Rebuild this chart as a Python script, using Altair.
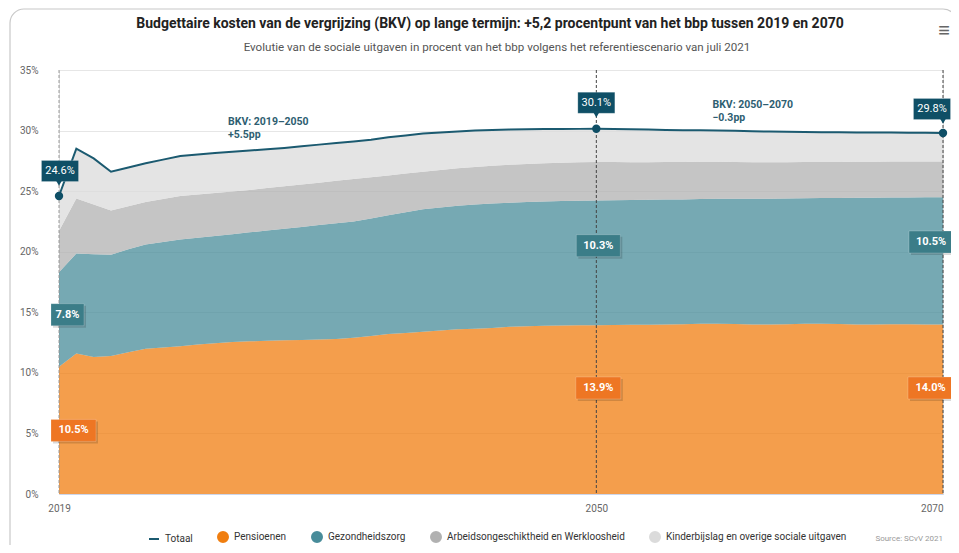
import altair as alt
import pandas as pd

# ---------------- data ----------------
years = list(range(2019, 2071))

totaal = [24.6, 28.5, 27.7, 26.6, 26.95, 27.3, 27.6, 27.9, 28.03, 28.15,
          28.25, 28.35, 28.45, 28.57, 28.7, 28.84, 28.97, 29.1, 29.25, 29.45,
          29.6, 29.75, 29.85, 29.93, 30.0, 30.05, 30.08, 30.1, 30.12, 30.13,
          30.14, 30.15, 30.12, 30.1, 30.08, 30.05, 30.03, 30.02, 30.0, 29.98,
          29.95, 29.92, 29.9, 29.88, 29.87, 29.86, 29.85, 29.85, 29.84, 29.83,
          29.82, 29.8]

pensioenen = [10.5, 11.6, 11.3, 11.4, 11.7, 12.0, 12.1, 12.2, 12.35, 12.45,
              12.55, 12.6, 12.65, 12.7, 12.72, 12.75, 12.8, 12.9, 13.05, 13.2,
              13.3, 13.4, 13.5, 13.6, 13.65, 13.7, 13.8, 13.85, 13.88, 13.9,
              13.92, 13.93, 13.95, 13.97, 13.98, 14.0, 14.02, 14.05, 14.05, 14.03,
              14.0, 14.0, 14.02, 14.05, 14.05, 14.03, 14.0, 14.0, 14.02, 14.02,
              14.0, 14.0]

gezondheidszorg = [7.8, 8.25, 8.5, 8.35, 8.5, 8.6, 8.7, 8.8, 8.8, 8.85,
                   8.9, 9.0, 9.1, 9.2, 9.33, 9.45, 9.55, 9.6, 9.7, 9.8,
                   9.95, 10.1, 10.15, 10.2, 10.25, 10.28, 10.25, 10.25, 10.27, 10.28,
                   10.28, 10.3, 10.3, 10.3, 10.3, 10.3, 10.3, 10.3, 10.32, 10.34,
                   10.37, 10.38, 10.38, 10.37, 10.38, 10.41, 10.45, 10.46, 10.45, 10.46,
                   10.49, 10.5]

arbeid = [3.4, 4.55, 4.1, 3.65, 3.55, 3.5, 3.55, 3.6, 3.57, 3.55,
          3.52, 3.5, 3.5, 3.5, 3.5, 3.5, 3.5, 3.5, 3.4, 3.3,
          3.2, 3.1, 3.1, 3.08, 3.1, 3.12, 3.13, 3.15, 3.15, 3.17,
          3.18, 3.17, 3.15, 3.11, 3.1, 3.1, 3.08, 3.07, 3.05, 3.03,
          3.01, 3.0, 2.98, 2.98, 2.97, 2.96, 2.97, 2.97, 2.97, 2.97,
          2.96, 2.95]

kinderbijslag = [2.9, 4.1, 3.8, 3.2, 3.2, 3.2, 3.25, 3.3, 3.31, 3.3,
                 3.28, 3.25, 3.2, 3.17, 3.15, 3.14, 3.12, 3.1, 3.1, 3.15,
                 3.15, 3.15, 3.1, 3.05, 3.0, 2.95, 2.9, 2.85, 2.82, 2.78,
                 2.76, 2.75, 2.72, 2.72, 2.7, 2.65, 2.63, 2.6, 2.58, 2.58,
                 2.57, 2.54, 2.52, 2.48, 2.47, 2.46, 2.43, 2.42, 2.4, 2.38,
                 2.37, 2.35]

series_names = ["Totaal", "Pensioenen", "Gezondheidszorg",
                "Arbeidsongeschiktheid en Werkloosheid",
                "Kinderbijslag en overige sociale uitgaven"]
series_colors = ["#1B5A70", "#F07E10", "#488C9A", "#B1B1B1", "#DBDBDB"]

label_years = [2019, 2050, 2070]
rule_colors = ["#9a9a9a", "#444444", "#444444"]
totaal_labels = ["24.6%", "30.1%", "29.8%"]
pensioen_labels = ["10.5%", "13.9%", "14.0%"]
pensioen_label_pos = [5.25, 8.75, 8.75]
gezond_labels = ["7.8%", "10.3%", "10.5%"]
gezond_label_pos = [14.8, 20.5, 20.8]

notes = ["BKV: 2019–2050\n+5.5pp", "BKV: 2050–2070\n−0.3pp"]
note_x = [2028.75, 2056.7]
note_y = [30.45, 31.85]

title = "Budgettaire kosten van de vergrijzing (BKV) op lange termijn: +5,2 procentpunt van het bbp tussen 2019 en 2070"
subtitle = "Evolutie van de sociale uitgaven in procent van het bbp volgens het referentiescenario van juli 2021"
source = "Source: SCvV 2021"

# ---------------- tables ----------------
area_rows = []
for i, y in enumerate(years):
    for k, (name, vals) in enumerate(zip(series_names[1:],
                                         [pensioenen, gezondheidszorg, arbeid, kinderbijslag])):
        area_rows.append({"year": y, "series": name, "value": vals[i], "order": k})
area_df = pd.DataFrame(area_rows)
line_df = pd.DataFrame({"year": years, "value": totaal, "series": "Totaal"})

W, H = 884, 424
FONT = "Roboto"

xscale = alt.Scale(domain=[2019, 2070], nice=False, zero=False)
yscale = alt.Scale(domain=[0, 35], nice=False)
cscale = alt.Scale(domain=series_names, range=series_colors)

legend = alt.Legend(
    title=None, orient="none", legendX=89, legendY=461, direction="horizontal",
    symbolType={"expr": "datum.value === 'Totaal' ? 'stroke' : 'circle'"},
    symbolStrokeColor={"expr": "datum.value === 'Totaal' ? '#1B5A70' : 'transparent'"},
    symbolStrokeWidth=2, symbolSize=100, symbolOpacity=1,
    labelFont=FONT, labelFontSize=10, labelColor="#333333",
    columnPadding=21, labelOffset=5, padding=0, labelLimit=400,
)

x_enc = alt.X("year:Q", scale=xscale,
              axis=alt.Axis(values=[2019, 2050, 2070], format="d", title=None, grid=False,
                            ticks=False, domainColor="#ccd6eb", labelPadding=9, labelFlush=False,
                            labelAlign={"expr": "datum.value == 2070 ? 'right' : 'center'"},
                            labelColor="#666666", labelFont=FONT, labelFontSize=10))
y_enc = alt.Y("value:Q", scale=yscale, stack="zero",
              axis=alt.Axis(values=[0, 5, 10, 15, 20, 25, 30, 35], title=None,
                            labelExpr="datum.value + '%'", domain=False, ticks=False,
                            gridColor="#e6e6e6", labelPadding=21,
                            labelColor="#666666", labelFont=FONT, labelFontSize=10))

areas = alt.Chart(area_df).mark_area(opacity=0.75).encode(
    x=x_enc, y=y_enc,
    color=alt.Color("series:N", scale=cscale, legend=legend),
    order=alt.Order("order:Q"),
)

line = alt.Chart(line_df).mark_line(strokeWidth=2).encode(
    x=alt.X("year:Q", scale=xscale),
    y=alt.Y("value:Q", scale=yscale),
    color=alt.Color("series:N", scale=cscale, legend=legend),
)

rule_df = pd.DataFrame({"year": label_years, "rc": rule_colors})
rules = alt.Chart(rule_df).mark_rule(strokeDash=[3, 2], strokeWidth=1).encode(
    x=alt.X("year:Q", scale=xscale), color=alt.Color("rc:N", scale=None, legend=None))

tot_pts = pd.DataFrame({"year": label_years,
                        "value": [totaal[years.index(y)] for y in label_years],
                        "text": totaal_labels})
points = alt.Chart(tot_pts).mark_point(filled=True, size=70, opacity=1, color="#0F4F66").encode(
    x=alt.X("year:Q", scale=xscale), y=alt.Y("value:Q", scale=yscale))

layers = [areas, rules, line, points]


def box(year, yval, text, fill, w, h, xoff, yoff, bold, fsize, shadow=True):
    d = pd.DataFrame({"year": [year], "value": [yval], "text": [text]})
    base = alt.Chart(d)
    enc = dict(x=alt.X("year:Q", scale=xscale), y=alt.Y("value:Q", scale=yscale))
    out = []
    if shadow:
        out.append(base.mark_rect(width=w, height=h, xOffset=xoff + 2, yOffset=yoff + 2,
                                  color="#000000", opacity=0.15).encode(**enc))
    out.append(base.mark_rect(width=w, height=h, xOffset=xoff, yOffset=yoff, color=fill,
                              stroke="#ffffff", strokeOpacity=0.4, strokeWidth=0.5,
                              opacity=1).encode(**enc))
    out.append(base.mark_text(dx=xoff, dy=yoff, color="#ffffff", font=FONT, fontSize=fsize,
                              fontWeight="bold" if bold else "normal").encode(text="text:N", **enc))
    return out


# total callouts
tot_xoff = [1, 0, -11]
tot_yoff = [-25, -26, -24]
for i, yr in enumerate(label_years):
    v = totaal[years.index(yr)]
    layers += box(yr, v, totaal_labels[i], "#0F4F66", 37, 21, tot_xoff[i], tot_yoff[i], False, 11,
                  shadow=False)
    tri = pd.DataFrame({"year": [yr], "value": [v]})
    layers.append(alt.Chart(tri).mark_point(shape="triangle-down", filled=True, size=40, opacity=1,
                                            color="#0F4F66", xOffset=0,
                                            yOffset=tot_yoff[i] + 12).encode(
        x=alt.X("year:Q", scale=xscale), y=alt.Y("value:Q", scale=yscale)))

# pension boxes
pw = 45
p_xoff = [51 + pw / 2 - 59, 2, 10 - pw / 2]
for i, yr in enumerate(label_years):
    layers += box(yr, pensioen_label_pos[i], pensioen_labels[i], "#EE7623", pw, 22, p_xoff[i], 0,
                  True, 11)

# health boxes
g_w = [33, 44, 44]
g_xoff = [51 + 33 / 2 - 59, 2, 10 - 44 / 2]
for i, yr in enumerate(label_years):
    layers += box(yr, gezond_label_pos[i], gezond_labels[i], "#3B7D88", g_w[i], 22, g_xoff[i], 0,
                  True, 11)

# BKV notes
notes_df = pd.DataFrame({"year": note_x, "value": note_y, "text": notes})
layers.append(alt.Chart(notes_df).mark_text(align="left", baseline="alphabetic", lineBreak="\n",
                                            lineHeight=13, font=FONT, fontSize=10.5,
                                            fontWeight="bold", color="#2E5E71").encode(
    x=alt.X("year:Q", scale=xscale), y=alt.Y("value:Q", scale=yscale), text="text:N"))

# card border, title, subtitle, menu icon and source line (chart furniture)
deco = pd.DataFrame({"k": [0]})
layers.append(alt.Chart(deco).mark_rect(fill=None, stroke="#c8c8c8", strokeWidth=1.2,
                                        cornerRadius=14).encode(
    x=alt.value(-49), x2=alt.value(898), y=alt.value(-61), y2=alt.value(560)))
layers.append(alt.Chart(pd.DataFrame({"t": [title]})).mark_text(
    font=FONT, fontSize=14, fontWeight="bold", color="#222222", align="center",
    baseline="alphabetic").encode(x=alt.value(431), y=alt.value(-42), text="t:N"))
layers.append(alt.Chart(pd.DataFrame({"t": [subtitle]})).mark_text(
    font=FONT, fontSize=11.6, color="#555555", align="center",
    baseline="alphabetic").encode(x=alt.value(438), y=alt.value(-19), text="t:N"))
layers.append(alt.Chart(pd.DataFrame({"t": ["≡"]})).mark_text(
    fontSize=20, color="#666666", align="center", baseline="middle").encode(
    x=alt.value(885), y=alt.value(-39), text="t:N"))
layers.append(alt.Chart(pd.DataFrame({"t": [source]})).mark_text(
    fontSize=8, color="#999999", align="right", baseline="alphabetic", font=FONT).encode(
    x=alt.value(884), y=alt.value(471), text="t:N"))

chart = alt.layer(*layers).properties(
    width=W, height=H,
    autosize=alt.AutoSizeParams(type="none"),
    padding={"left": 51, "top": 62, "right": 8, "bottom": 51},
).configure_view(stroke=None).configure(background="#ffffff")

chart.save("out.html", embed_options={"renderer": "svg", "actions": False})
